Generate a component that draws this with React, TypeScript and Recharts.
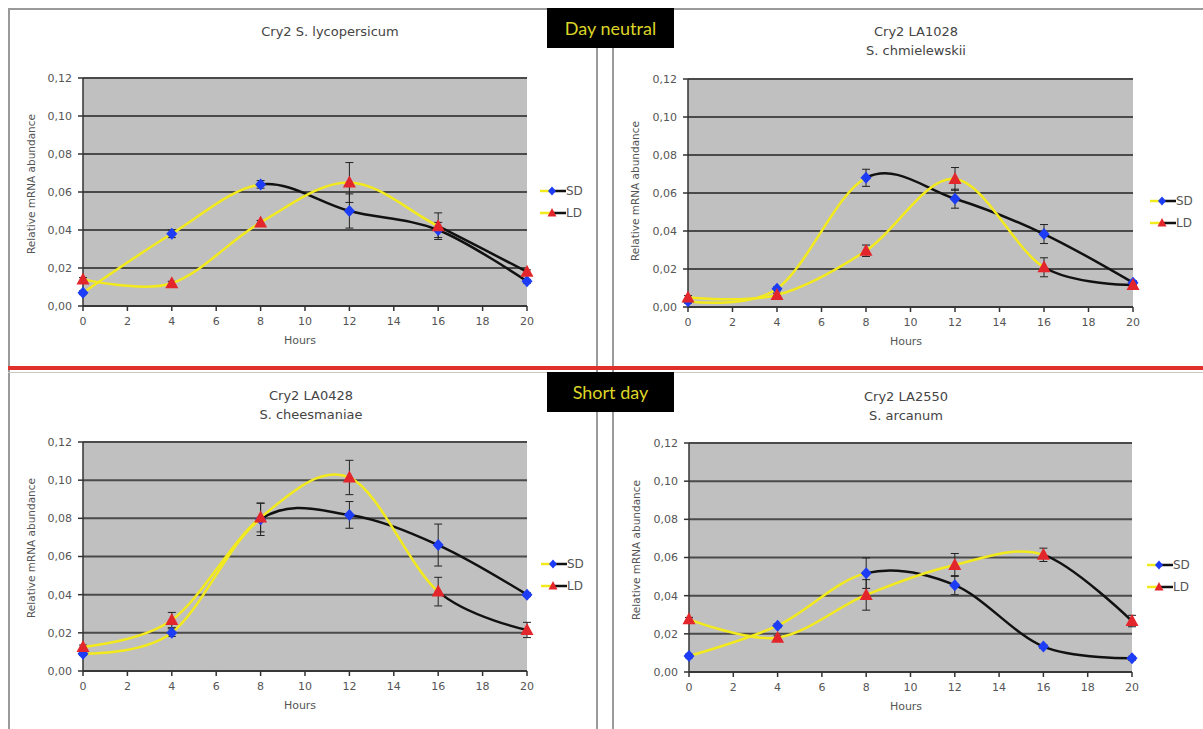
import React from 'react';
import { LineChart, Line, XAxis, YAxis, CartesianGrid, ErrorBar } from 'recharts';

const hours = [0, 4, 8, 12, 16, 20];
const xTicks = [0, 2, 4, 6, 8, 10, 12, 14, 16, 18, 20];
const yTicks = [0, 0.02, 0.04, 0.06, 0.08, 0.1, 0.12];

const lycoSD = [0.007, 0.038, 0.064, 0.05, 0.04, 0.013];
const lycoSDErr = [0.001, 0.002, 0.002, 0.009, 0.004, 0.001];
const lycoLD = [0.014, 0.012, 0.044, 0.065, 0.042, 0.018];
const lycoLDErr = [0.001, 0.001, 0.001, 0.0105, 0.007, 0.001];

const chmSD = [0.003, 0.0096, 0.068, 0.057, 0.0384, 0.0128];
const chmSDErr = [0.001, 0.001, 0.0045, 0.005, 0.005, 0.001];
const chmLD = [0.005, 0.0063, 0.0296, 0.0674, 0.0209, 0.0116];
const chmLDErr = [0.001, 0.001, 0.003, 0.006, 0.005, 0.001];

const cheSD = [0.0091, 0.0201, 0.0795, 0.0818, 0.066, 0.04];
const cheSDErr = [0.001, 0.002, 0.0085, 0.007, 0.011, 0.001];
const cheLD = [0.0126, 0.0267, 0.0804, 0.1014, 0.0416, 0.0215];
const cheLDErr = [0.001, 0.004, 0.0075, 0.009, 0.0075, 0.004];

const arcSD = [0.0084, 0.0243, 0.0518, 0.0455, 0.0133, 0.0072];
const arcSDErr = [0.001, 0.001, 0.008, 0.005, 0.001, 0.001];
const arcLD = [0.0276, 0.018, 0.0404, 0.0561, 0.0614, 0.0267];
const arcLDErr = [0.001, 0.001, 0.008, 0.006, 0.0035, 0.003];

const seriesNames = ['SD', 'LD'];

const YELLOW = '#f2ea1c';
const BLACK = '#111111';
const BLUE = '#1d3cf5';
const RED = '#e3262b';
const FONT = '"DejaVu Sans", Verdana, sans-serif';

// Catmull-Rom (cardinal, tension 0) curve, similar to Excel smoothing
class CardinalCurve {
  _context: any; _k: number; _line: number = NaN; _point = 0;
  _x0 = NaN; _x1 = NaN; _x2 = NaN; _y0 = NaN; _y1 = NaN; _y2 = NaN;
  constructor(context: any) { this._context = context; this._k = 1 / 6; }
  areaStart() { this._line = 0; }
  areaEnd() { this._line = NaN; }
  lineStart() { this._x0 = this._x1 = this._x2 = this._y0 = this._y1 = this._y2 = NaN; this._point = 0; }
  seg(x: number, y: number) {
    this._context.bezierCurveTo(
      this._x1 + this._k * (this._x2 - this._x0),
      this._y1 + this._k * (this._y2 - this._y0),
      this._x2 + this._k * (this._x1 - x),
      this._y2 + this._k * (this._y1 - y),
      this._x2, this._y2);
  }
  lineEnd() {
    switch (this._point) {
      case 2: this._context.lineTo(this._x2, this._y2); break;
      case 3: this.seg(this._x1, this._y1); break;
    }
    if (this._line || (this._line !== 0 && this._point === 1)) this._context.closePath();
    this._line = 1 - this._line;
  }
  point(x: number, y: number) {
    x = +x; y = +y;
    switch (this._point) {
      case 0: this._point = 1; this._line ? this._context.lineTo(x, y) : this._context.moveTo(x, y); break;
      case 1: this._point = 2; this._x1 = x; this._y1 = y; break;
      case 2: this._point = 3; this.seg(x, y); break;
      default: this.seg(x, y); break;
    }
    this._x0 = this._x1; this._x1 = this._x2; this._x2 = x;
    this._y0 = this._y1; this._y1 = this._y2; this._y2 = y;
  }
}
const catmull: any = (ctx: any) => new CardinalCurve(ctx);

const diamondDot = (p: any) => {
  const { cx, cy, index } = p;
  if (cx == null || cy == null) return <g key={`sd-${index}`} />;
  return (
    <polygon key={`sd-${index}`} points={`${cx},${cy - 6} ${cx + 5.5},${cy} ${cx},${cy + 6} ${cx - 5.5},${cy}`} fill={BLUE} />
  );
};
const triangleDot = (p: any) => {
  const { cx, cy, index } = p;
  if (cx == null || cy == null) return <g key={`ld-${index}`} />;
  return (
    <polygon key={`ld-${index}`} points={`${cx},${cy - 7} ${cx + 6.5},${cy + 5} ${cx - 6.5},${cy + 5}`} fill={RED} />
  );
};

const fmt = (v: number) => v.toFixed(2).replace('.', ',');

type PanelProps = {
  left: number; top: number; width: number; height: number;
  margin: { top: number; right: number; bottom: number; left: number };
  sd: number[]; sdErr: number[]; ld: number[]; ldErr: number[];
};

function Panel({ left, top, width, height, margin, sd, sdErr, ld, ldErr }: PanelProps) {
  const data = hours.map((h, i) => ({ h, sd: sd[i], sdErr: sdErr[i], ld: ld[i], ldErr: ldErr[i] }));
  return (
    <div style={{ position: 'absolute', left, top }}>
      <LineChart width={width} height={height} data={data} margin={margin}>
        <CartesianGrid vertical={false} fill="#c0c0c0" stroke="#4a4a4a" strokeWidth={2} fillOpacity={1} />
        <XAxis dataKey="h" type="number" domain={[0, 20]} ticks={xTicks} height={30}
          tickSize={5} tickMargin={6} stroke="#333" strokeWidth={1.5}
          tick={{ fontSize: 11, fill: '#555', fontFamily: FONT }} />
        <YAxis type="number" domain={[0, 0.12]} ticks={yTicks} width={50} tickFormatter={fmt}
          tickSize={5} tickMargin={6} stroke="#333" strokeWidth={1.5}
          tick={{ fontSize: 11, fill: '#555', fontFamily: FONT }} />
        <Line dataKey="sd" type={catmull} stroke="url(#gradSD)" strokeWidth={2.5} dot={diamondDot}
          activeDot={false} isAnimationActive={false}>
          <ErrorBar dataKey="sdErr" width={4} stroke="#222" strokeWidth={1} direction="y" isAnimationActive={false} />
        </Line>
        <Line dataKey="ld" type={catmull} stroke="url(#gradLD)" strokeWidth={2.5} dot={triangleDot}
          activeDot={false} isAnimationActive={false}>
          <ErrorBar dataKey="ldErr" width={4} stroke="#222" strokeWidth={1} direction="y" isAnimationActive={false} />
        </Line>
      </LineChart>
    </div>
  );
}

function LegendItem({ x, y, name, marker }: { x: number; y: number; name: string; marker: 'd' | 't' }) {
  return (
    <div style={{ position: 'absolute', left: x, top: y - 8, height: 16, display: 'flex', alignItems: 'center' }}>
      <svg width={26} height={16}>
        <line x1={0} y1={8} x2={13} y2={8} stroke={YELLOW} strokeWidth={2.5} />
        <line x1={13} y1={8} x2={26} y2={8} stroke={BLACK} strokeWidth={2.5} />
        {marker === 'd'
          ? <polygon points="12,3.5 16,8 12,12.5 8,8" fill={BLUE} />
          : <polygon points="12,3 16.5,11.5 7.5,11.5" fill={RED} />}
      </svg>
      <span style={{ fontFamily: FONT, fontSize: 12, color: '#555', marginLeft: 0 }}>{name}</span>
    </div>
  );
}

function Title({ x, y, lines }: { x: number; y: number; lines: string[] }) {
  return (
    <div style={{ position: 'absolute', left: x - 150, top: y - 10, width: 300, textAlign: 'center',
      fontFamily: FONT, fontSize: 13, lineHeight: '19px', color: '#444' }}>
      {lines.map((l) => <div key={l}>{l}</div>)}
    </div>
  );
}

function YLabel({ x, y }: { x: number; y: number }) {
  return (
    <div style={{ position: 'absolute', left: x - 100, top: y - 8, width: 200, height: 16, textAlign: 'center',
      fontFamily: FONT, fontSize: 10.5, lineHeight: '16px', color: '#555', transform: 'rotate(-90deg)' }}>
      Relative mRNA abundance
    </div>
  );
}

function XLabel({ x, y }: { x: number; y: number }) {
  return (
    <div style={{ position: 'absolute', left: x - 50, top: y - 8, width: 100, height: 16, textAlign: 'center',
      fontFamily: FONT, fontSize: 11, lineHeight: '16px', color: '#555' }}>
      Hours
    </div>
  );
}

function Badge({ top, text }: { top: number; text: string }) {
  return (
    <div style={{ position: 'absolute', left: 547, top, width: 127, height: 40, background: '#000',
      color: '#ddd526', fontFamily: 'Lato, "Open Sans", sans-serif', fontSize: 18, lineHeight: '40px', textAlign: 'center' }}>
      {text}
    </div>
  );
}

const vline = (x: number, y1: number, y2: number, key: string) => (
  <div key={key} style={{ position: 'absolute', left: x, top: y1, width: 1.5, height: y2 - y1, background: '#9a9a9a' }} />
);

export default function App() {
  return (
    <div style={{ position: 'absolute', left: 0, top: 0, width: 1203, height: 729, background: '#fff', overflow: 'hidden' }}>
      <svg width={0} height={0} style={{ position: 'absolute' }}>
        <defs>
          <linearGradient id="gradSD" x1="0" y1="0" x2="1" y2="0">
            <stop offset="0" stopColor={YELLOW} />
            <stop offset="0.4" stopColor={YELLOW} />
            <stop offset="0.4" stopColor={BLACK} />
            <stop offset="1" stopColor={BLACK} />
          </linearGradient>
          <linearGradient id="gradLD" x1="0" y1="0" x2="1" y2="0">
            <stop offset="0" stopColor={YELLOW} />
            <stop offset="0.8" stopColor={YELLOW} />
            <stop offset="0.8" stopColor={BLACK} />
            <stop offset="1" stopColor={BLACK} />
          </linearGradient>
        </defs>
      </svg>

      {/* frames */}
      <div style={{ position: 'absolute', left: 8, top: 8, width: 1195, height: 1.5, background: '#9a9a9a' }} />
      {vline(8, 8, 729, 'v1')}
      {vline(596, 8, 729, 'v2')}
      {vline(612, 8, 729, 'v3')}
      <div style={{ position: 'absolute', left: 8, top: 372, width: 1195, height: 1, background: '#c8c8c8' }} />

      <Panel left={0} top={0} width={600} height={365}
        margin={{ top: 78, right: 73, bottom: 29, left: 33 }}
        sd={lycoSD} sdErr={lycoSDErr} ld={lycoLD} ldErr={lycoLDErr} />
      <Panel left={600} top={0} width={603} height={365}
        margin={{ top: 79, right: 70, bottom: 28, left: 38 }}
        sd={chmSD} sdErr={chmSDErr} ld={chmLD} ldErr={chmLDErr} />
      <Panel left={0} top={365} width={600} height={364}
        margin={{ top: 77, right: 73, bottom: 28, left: 33 }}
        sd={cheSD} sdErr={cheSDErr} ld={cheLD} ldErr={cheLDErr} />
      <Panel left={600} top={365} width={603} height={364}
        margin={{ top: 78, right: 71, bottom: 27, left: 39 }}
        sd={arcSD} sdErr={arcSDErr} ld={arcLD} ldErr={arcLDErr} />

      <Title x={330} y={32} lines={['Cry2 S. lycopersicum']} />
      <Title x={916} y={32} lines={['Cry2 LA1028', 'S. chmielewskii']} />
      <Title x={311} y={396} lines={['Cry2 LA0428', 'S. cheesmaniae']} />
      <Title x={906} y={397} lines={['Cry2 LA2550', 'S. arcanum']} />

      <YLabel x={31} y={184} />
      <YLabel x={635} y={191} />
      <YLabel x={31} y={548} />
      <YLabel x={636} y={550} />

      <XLabel x={300} y={341} />
      <XLabel x={906} y={342} />
      <XLabel x={300} y={706} />
      <XLabel x={906} y={707} />

      <LegendItem x={540} y={191} name={seriesNames[0]} marker="d" />
      <LegendItem x={540} y={213} name={seriesNames[1]} marker="t" />
      <LegendItem x={1150} y={201} name={seriesNames[0]} marker="d" />
      <LegendItem x={1150} y={223} name={seriesNames[1]} marker="t" />
      <LegendItem x={541} y={564} name={seriesNames[0]} marker="d" />
      <LegendItem x={541} y={586} name={seriesNames[1]} marker="t" />
      <LegendItem x={1147} y={565} name={seriesNames[0]} marker="d" />
      <LegendItem x={1147} y={587} name={seriesNames[1]} marker="t" />

      <div style={{ position: 'absolute', left: 8, top: 366, width: 1195, height: 4, background: '#e0302c' }} />
      <Badge top={8} text="Day neutral" />
      <Badge top={372} text="Short day" />
    </div>
  );
}
